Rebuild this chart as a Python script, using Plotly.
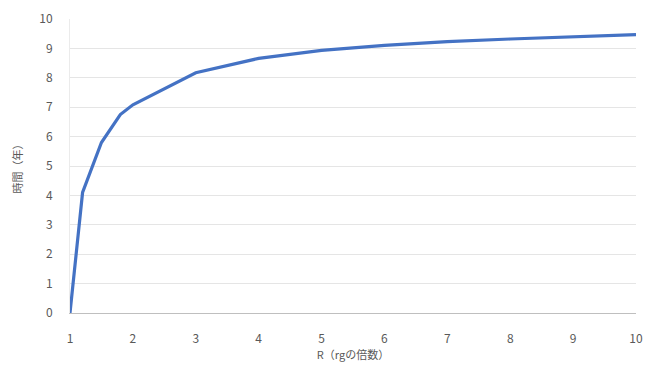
import plotly.graph_objects as go

r_values = [1, 1.2, 1.5, 1.8, 2, 3, 4, 5, 6, 7, 8, 9, 10]
time_years = [0, 4.1, 5.8, 6.75, 7.08, 8.17, 8.66, 8.93, 9.1, 9.23, 9.32, 9.4, 9.47]
x_ticks = list(range(1, 11))
y_ticks = list(range(0, 11))

font_family = "Noto Sans CJK JP, Noto Sans, sans-serif"

fig = go.Figure()
fig.add_trace(go.Scatter(
    x=r_values, y=time_years, mode="lines",
    line=dict(color="#4472C4", width=3.2),
    showlegend=False,
))

fig.update_layout(
    width=648, height=376,
    margin=dict(l=70, r=12, t=19, b=63, autoexpand=False),
    paper_bgcolor="white", plot_bgcolor="white",
    font=dict(family=font_family, size=12, color="#595959"),
    xaxis=dict(
        range=[1, 10], tickvals=x_ticks, ticks="", showgrid=False,
        showline=True, linecolor="#BFBFBF", linewidth=1, zeroline=False,
        ticklabelstandoff=15, automargin=False,
        title=dict(text="R（rgの倍数）", font=dict(size=11, color="#595959"), standoff=4),
        tickfont=dict(size=12, color="#595959"),
    ),
    yaxis=dict(
        range=[0, 10], tickvals=y_ticks, ticks="", showgrid=True,
        gridcolor="#E5E5E5", gridwidth=1, zeroline=False,
        showline=True, linecolor="#EBEBEB", linewidth=1,
        ticklabelstandoff=14, automargin=False,
        title=dict(text="時間（年）", font=dict(size=11, color="#595959"), standoff=14),
        tickfont=dict(size=12, color="#595959"),
    ),
)

fig.write_html("out.html")
